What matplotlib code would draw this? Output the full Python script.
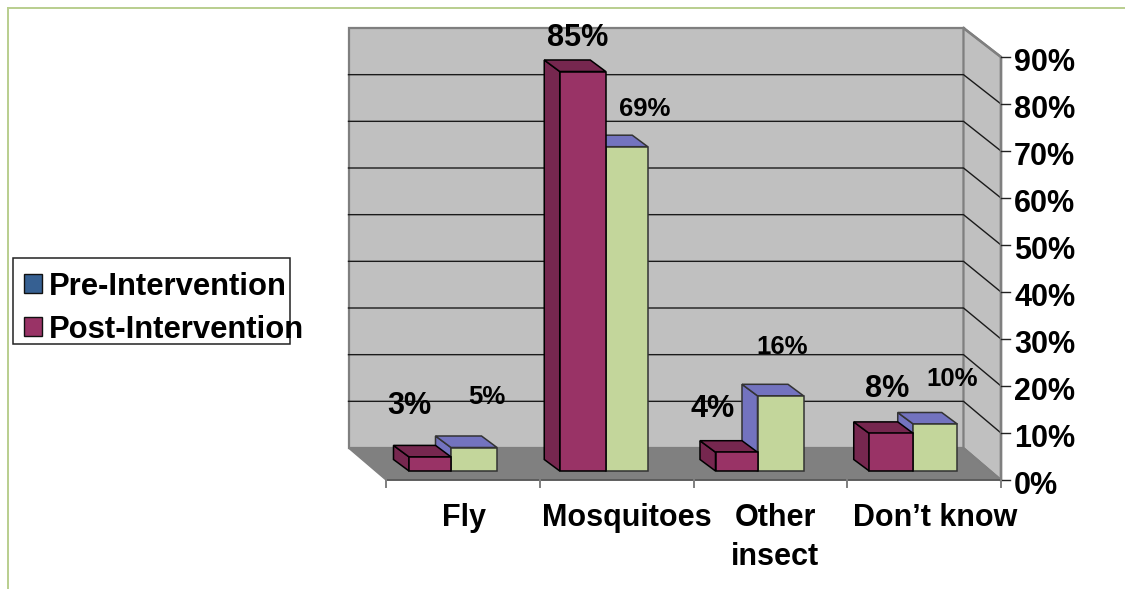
import matplotlib
matplotlib.use("Agg")
import matplotlib.pyplot as plt
from matplotlib.lines import Line2D
from matplotlib.patches import Polygon, Rectangle

plt.rcParams["font.family"] = ["Liberation Sans", "DejaVu Sans"]

categories = ["Fly", "Mosquitoes", "Other\ninsect", "Don\u2019t know"]
post_values = [3, 85, 4, 8]
third_values = [5, 69, 16, 10]
y_ticks = [0, 10, 20, 30, 40, 50, 60, 70, 80, 90]
legend_labels = ["Pre-Intervention", "Post-Intervention"]

W, H = 1125, 589
LEFT, RIGHT, BOTTOM, TOP = 386, 1001, 480, 57  # front plane of the chart box, pixels
DEPTH_X = 37.5
DEPTH_BOTTOM, DEPTH_TOP = 32, 29
BAR_LIFT = 9
BAR_DX, BAR_DY = 15.5, 11.5

WALL, FLOOR, EDGE = "#C0C0C0", "#808080", "#7F7F7F"
POST_FRONT, POST_DARK = "#993366", "#76274F"
THIRD_FRONT, THIRD_SHADE = "#C3D69B", "#7373BF"
PRE_SWATCH = "#366092"
FRAME = "#B9CE8E"

# Bar edges within each category slot, in pixels from the slot's left tick
post_left = [23, 20, 22, 22]
split = [65, 66, 64, 66]
third_right = [111, 108, 110, 110]
# Value label placement relative to the bar's top-front centre, in pixels
post_label_offset = [(-21, 51), (-5, 34), (-24, 43), (-4, 44)]
third_label_offset = [(13, 50), (18, 38), (2, 49), (17, 45)]
category_x = [464, 627, 775, 935]

fig = plt.figure(figsize=(W / 100, H / 100), dpi=100, facecolor="white")
ax = fig.add_axes([LEFT / W, 1 - BOTTOM / H, (RIGHT - LEFT) / W, (BOTTOM - TOP) / H])
ax.set_xlim(0, len(categories))
ax.set_ylim(y_ticks[0], y_ticks[-1])
ax.axis("off")

PX_X = len(categories) / (RIGHT - LEFT)
PX_Y = y_ticks[-1] / (BOTTOM - TOP)


def add_poly(points, color, edge="#000000", lw=1.1, z=2):
    ax.add_patch(Polygon(points, closed=True, facecolor=color, edgecolor=edge,
                         linewidth=lw, joinstyle="miter", clip_on=False, zorder=z))


def back_y(v):
    """Height of a value on the back wall, in axis units."""
    span = y_ticks[-1] + (DEPTH_TOP - DEPTH_BOTTOM) * PX_Y
    return DEPTH_BOTTOM * PX_Y + v * span / y_ticks[-1]


x0, x1 = ax.get_xlim()
dx = DEPTH_X * PX_X

# Chart box: back wall, side wall and floor
add_poly([(x0 - dx, back_y(0)), (x1 - dx, back_y(0)), (x1 - dx, back_y(90)), (x0 - dx, back_y(90))],
         WALL, EDGE, 1.6, 1)
add_poly([(x1 - dx, back_y(0)), (x1, 0), (x1, 90), (x1 - dx, back_y(90))], WALL, EDGE, 1.6, 1)
add_poly([(x0 - dx, back_y(0)), (x1 - dx, back_y(0)), (x1, 0), (x0, 0)], FLOOR, FLOOR, 1.0, 1.2)

# Gridlines wrap from the back wall onto the side wall
for v in y_ticks[1:-1]:
    ax.plot([x0 - dx, x1 - dx, x1], [back_y(v), back_y(v), v], color="#1A1A1A", lw=1.0,
            clip_on=False, zorder=1.5, solid_joinstyle="miter")
ax.plot([x1 - dx, x1, x1], [back_y(90), 90, 0], color=EDGE, lw=1.8, clip_on=False, zorder=1.6)
ax.plot([x1 - dx, x1], [back_y(0), 0], color=EDGE, lw=1.2, clip_on=False, zorder=1.6)
ax.plot([x0, x1], [0, 0], color="#555555", lw=1.2, clip_on=False, zorder=1.6)

# Axis ticks and labels
for v in y_ticks:
    ax.plot([x1, x1 + 9 * PX_X], [v, v], color="#222222", lw=1.0, clip_on=False)
    ax.text(x1 + 13 * PX_X, v - 6 * PX_Y, f"{v}%", fontsize=22, fontweight="bold",
            ha="left", va="center", color="black")
for i in range(len(categories) + 1):
    ax.plot([i, i], [0, -7 * PX_Y], color=EDGE, lw=1.4, clip_on=False)


def draw_bar(left, right, value, front, top, side, edge):
    """Draw one bar as side face, top face and front face."""
    lift = BAR_LIFT * PX_Y
    bx, by = BAR_DX * PX_X, BAR_DY * PX_Y
    y = value + lift
    add_poly([(left - bx, lift + by), (left, lift), (left, y), (left - bx, y + by)], side, edge, z=3)
    add_poly([(left - bx, y + by), (right - bx, y + by), (right, y), (left, y)], top, edge, z=3)
    add_poly([(left, lift), (right, lift), (right, y), (left, y)], front, edge, z=3)


for i, (post, third) in enumerate(zip(post_values, third_values)):
    a = i + post_left[i] * PX_X
    b = i + split[i] * PX_X
    c = i + third_right[i] * PX_X
    draw_bar(b, c, third, THIRD_FRONT, THIRD_SHADE, THIRD_SHADE, "#333333")
    draw_bar(a, b, post, POST_FRONT, POST_DARK, POST_DARK, "#000000")

    ox, oy = post_label_offset[i]
    ax.text((a + b) / 2 + ox * PX_X, post + (BAR_LIFT + oy) * PX_Y, f"{post}%", fontsize=22,
            fontweight="bold", ha="center", va="center", color="black", zorder=5)
    ox, oy = third_label_offset[i]
    ax.text((b + c) / 2 + ox * PX_X, third + (BAR_LIFT + oy) * PX_Y, f"{third}%", fontsize=18.5,
            fontweight="bold", ha="center", va="center", color="black", zorder=5)

# Category labels
for name, px in zip(categories, category_x):
    ax.text((px - LEFT) * PX_X, -23 * PX_Y, name, fontsize=22, fontweight="bold",
            ha="center", va="top", linespacing=1.38, color="black")

# Hand-built legend and outer frame, placed in figure pixels
ft = fig.transFigure


def fx(px):
    return px / W


def fy(py):
    return 1 - py / H


fig.add_artist(Rectangle((fx(13), fy(344)), fx(277), 86 / H, transform=ft, facecolor="white",
                         edgecolor="#222222", linewidth=1.1))
for label, color, top_px in zip(legend_labels, [PRE_SWATCH, POST_FRONT], [274, 317]):
    fig.add_artist(Rectangle((fx(23.5), fy(top_px + 18.5)), fx(18), 18.5 / H, transform=ft,
                             facecolor=color, edgecolor="#111111", linewidth=1.0))
    fig.text(fx(49), fy(top_px + 13), label, fontsize=22.3, fontweight="bold", ha="left", va="center",
             color="black")

fig.add_artist(Line2D([fx(8), fx(8)], [fy(8), fy(589)], transform=ft, color=FRAME, lw=1.4))
fig.add_artist(Line2D([fx(8), fx(1125)], [fy(8), fy(8)], transform=ft, color=FRAME, lw=1.4))

fig.savefig("out.png", dpi=100)
